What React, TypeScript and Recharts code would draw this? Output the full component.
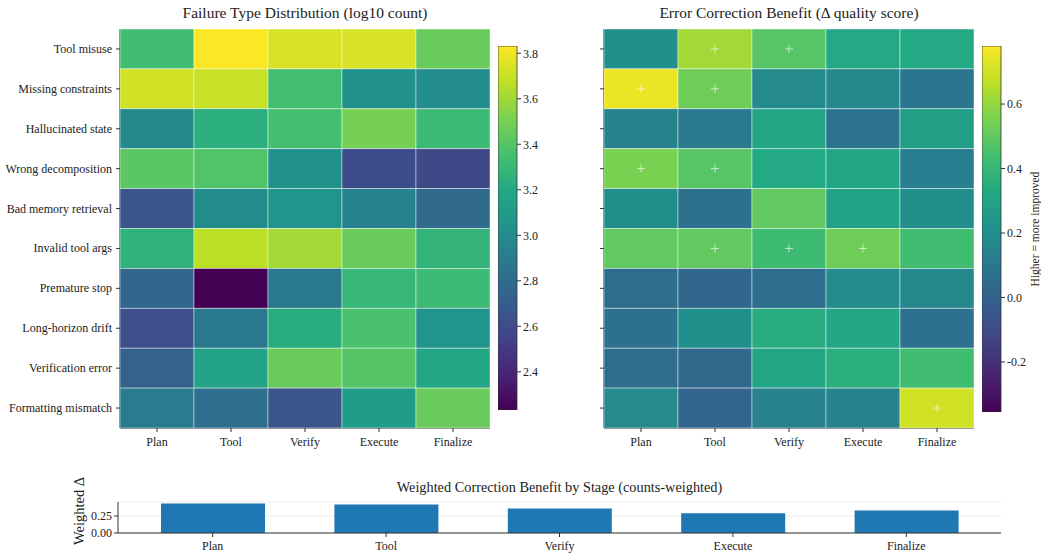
import React from 'react';
import { ScatterChart, Scatter, BarChart, Bar, XAxis, YAxis, CartesianGrid, Label } from 'recharts';

const stages = ['Plan', 'Tool', 'Verify', 'Execute', 'Finalize'];
const failureTypes = [
  'Tool misuse',
  'Missing constraints',
  'Hallucinated state',
  'Wrong decomposition',
  'Bad memory retrieval',
  'Invalid tool args',
  'Premature stop',
  'Long-horizon drift',
  'Verification error',
  'Formatting mismatch',
];

// log10 counts, rows = failure types, cols = stages
const logCounts = [
  [3.34, 3.83, 3.74, 3.74, 3.46],
  [3.72, 3.7, 3.35, 3.03, 3.0],
  [2.98, 3.24, 3.35, 3.5, 3.32],
  [3.42, 3.39, 3.03, 2.6, 2.58],
  [2.65, 3.0, 3.06, 2.94, 2.79],
  [3.26, 3.67, 3.61, 3.46, 3.27],
  [2.76, 2.232, 2.87, 3.29, 3.32],
  [2.62, 2.87, 3.22, 3.37, 3.05],
  [2.73, 3.16, 3.46, 3.4, 3.18],
  [2.89, 2.81, 2.65, 3.11, 3.46],
];

// delta quality score
const deltas = [
  [0.21, 0.62, 0.48, 0.33, 0.33],
  [0.75, 0.53, 0.18, 0.17, 0.09],
  [0.145, 0.11, 0.315, 0.076, 0.28],
  [0.55, 0.48, 0.33, 0.315, 0.12],
  [0.2, 0.065, 0.5, 0.3, 0.2],
  [0.5, 0.5, 0.42, 0.53, 0.43],
  [0.05, 0.02, 0.05, 0.19, 0.17],
  [0.065, 0.21, 0.35, 0.315, 0.065],
  [0.05, 0.03, 0.315, 0.36, 0.43],
  [0.18, 0.01, 0.145, 0.145, 0.7],
];

// cells marked with "+"
const significant = [
  [0, 1, 1, 0, 0],
  [1, 1, 0, 0, 0],
  [0, 0, 0, 0, 0],
  [1, 1, 0, 0, 0],
  [0, 0, 0, 0, 0],
  [0, 1, 1, 1, 0],
  [0, 0, 0, 0, 0],
  [0, 0, 0, 0, 0],
  [0, 0, 0, 0, 0],
  [0, 0, 0, 0, 1],
];

const weightedDelta = [0.435, 0.42, 0.36, 0.29, 0.33];

const countDomain = [2.232, 3.832];
const countTicks = [2.4, 2.6, 2.8, 3.0, 3.2, 3.4, 3.6, 3.8];
const deltaDomain = [-0.355, 0.78];
const deltaTicks = [-0.2, 0.0, 0.2, 0.4, 0.6];
const barDomain = [0, 0.457];
const barTicks = [0, 0.25];

const viridisStops = [
  '#440154', '#482475', '#414487', '#355f8d', '#2a788e', '#21918c',
  '#22a884', '#44bf70', '#7ad151', '#bddf26', '#fde725',
];

const FONT = '"Liberation Serif", "DejaVu Serif", serif';
const AXIS = '#333333';
const TEXT = '#222222';

function hexToRgb(h: string) {
  return [1, 3, 5].map((i) => parseInt(h.slice(i, i + 2), 16));
}

function viridis(t: number) {
  const c = Math.max(0, Math.min(1, t)) * 10;
  const i = Math.min(9, Math.floor(c));
  const f = c - i;
  const a = hexToRgb(viridisStops[i]);
  const b = hexToRgb(viridisStops[i + 1]);
  const m = a.map((v, k) => Math.round(v + (b[k] - v) * f));
  return `rgb(${m[0]},${m[1]},${m[2]})`;
}

const toCells = (values: number[][], marks?: number[][]) =>
  values.flatMap((row, r) =>
    row.map((v, c) => ({ x: c, y: r, v, mark: marks ? marks[r][c] === 1 : false }))
  );

const PLOT_W = 370;
const PLOT_H = 399;
const tickStyle = { fontSize: 12, fontFamily: FONT, fill: TEXT };

// plain svg text so long labels never wrap
const YTick = ({ x, y, payload, labels }: any) => (
  <text x={x - 1} y={y} dy={4} textAnchor="end" fontSize={12} fontFamily={FONT} fill={TEXT}>
    {labels ? labels[payload.value] : ''}
  </text>
);

function Heatmap({ values, marks, domain, showLabels }: any) {
  const cw = PLOT_W / stages.length;
  const ch = PLOT_H / failureTypes.length;
  const [lo, hi] = domain;
  const yAxisW = showLabels ? 120 : 30;
  const shape = (p: any) => {
    const { cx, cy, payload } = p;
    return (
      <g>
        <rect
          x={cx - cw / 2}
          y={cy - ch / 2}
          width={cw}
          height={ch}
          fill={viridis((payload.v - lo) / (hi - lo))}
          stroke="rgba(255,255,255,0.55)"
          strokeWidth={0.8}
        />
        {payload.mark && (
          <path
            d={`M${cx - 4},${cy}h8M${cx},${cy - 4}v8`}
            stroke="rgba(255,255,255,0.8)"
            strokeWidth={0.8}
          />
        )}
      </g>
    );
  };
  return (
    <ScatterChart
      width={yAxisW + PLOT_W + 10}
      height={460}
      margin={{ top: 29, right: 10, bottom: 6, left: 0 }}
    >
      <XAxis
        type="number"
        dataKey="x"
        domain={[-0.5, 4.5]}
        ticks={[0, 1, 2, 3, 4]}
        allowDataOverflow
        interval={0}
        tickFormatter={(v) => stages[v]}
        height={26}
        tickSize={4}
        tickMargin={5}
        tick={tickStyle}
        stroke={AXIS}
      />
      <XAxis xAxisId="top" orientation="top" type="number" domain={[-0.5, 4.5]} height={0} tick={false} tickLine={false} stroke={AXIS} />
      <YAxis
        type="number"
        dataKey="y"
        domain={[-0.5, 9.5]}
        ticks={[0, 1, 2, 3, 4, 5, 6, 7, 8, 9]}
        allowDataOverflow
        reversed
        interval={0}
        width={yAxisW}
        tickSize={4}
        tickMargin={3}
        tick={<YTick labels={showLabels ? failureTypes : null} />}
        stroke={AXIS}
      />
      <YAxis yAxisId="right" orientation="right" type="number" domain={[-0.5, 9.5]} width={0} tick={false} tickLine={false} stroke={AXIS} />
      <Scatter data={toCells(values, marks)} shape={shape} isAnimationActive={false} />
    </ScatterChart>
  );
}

function Colorbar({ id, domain, ticks, height, label }: any) {
  const [lo, hi] = domain;
  return (
    <BarChart
      width={19 + 40}
      height={height + 10}
      data={[{ k: 'cb', r: [lo, hi] }]}
      margin={{ top: 5, right: 0, bottom: 5, left: 0 }}
      barCategoryGap={0}
    >
      <defs>
        <linearGradient id={id} x1="0" y1="1" x2="0" y2="0">
          {viridisStops.map((c, i) => (
            <stop key={i} offset={`${i * 10}%`} stopColor={c} />
          ))}
        </linearGradient>
      </defs>
      <XAxis dataKey="k" hide />
      <YAxis
        orientation="right"
        type="number"
        domain={domain}
        ticks={ticks}
        allowDataOverflow
        interval={0}
        width={40}
        tickSize={4}
        tickFormatter={(v) => v.toFixed(1)}
        tick={tickStyle}
        stroke={AXIS}
        axisLine={false}
      >
        {label && (
          <Label
            value={label}
            angle={-90}
            position="insideRight"
            offset={6}
            style={{ textAnchor: 'middle', fontSize: 11.5, fontFamily: FONT, fill: TEXT }}
          />
        )}
      </YAxis>
      <Bar dataKey="r" fill={`url(#${id})`} stroke={AXIS} strokeWidth={0.8} isAnimationActive={false} />
    </BarChart>
  );
}

const barData = stages.map((s, i) => ({ stage: s, value: weightedDelta[i] }));

function Title({ text, left, width, top, size, rotate }: any) {
  return (
    <div
      style={{
        position: 'absolute',
        left,
        width,
        top,
        textAlign: 'center',
        fontFamily: FONT,
        fontSize: size,
        lineHeight: `${size + 2}px`,
        color: TEXT,
        whiteSpace: 'nowrap',
        transform: rotate ? 'translate(-50%, -50%) rotate(-90deg)' : undefined,
      }}
    >
      {text}
    </div>
  );
}

export default function App() {
  return (
    <div style={{ position: 'absolute', left: 0, top: 0, width: 1041, height: 554, background: '#fff', overflow: 'hidden' }}>
      <Title text="Failure Type Distribution (log10 count)" left={120} width={370} top={4} size={15.5} />
      <Title text="Error Correction Benefit (Δ quality score)" left={604} width={370} top={4} size={15.5} />
      <Title text="Weighted Correction Benefit by Stage (counts-weighted)" left={118} width={883} top={479} size={14.3} />

      <div style={{ position: 'absolute', left: 0, top: 0 }}>
        <Heatmap values={logCounts} domain={countDomain} showLabels />
      </div>
      <div style={{ position: 'absolute', left: 498, top: 41 }}>
        <Colorbar id="cbCounts" domain={countDomain} ticks={countTicks} height={364} />
      </div>
      <div style={{ position: 'absolute', left: 574, top: 0 }}>
        <Heatmap values={deltas} marks={significant} domain={deltaDomain} showLabels={false} />
      </div>
      <div style={{ position: 'absolute', left: 982, top: 41 }}>
        <Colorbar id="cbDelta" domain={deltaDomain} ticks={deltaTicks} height={366} label="Higher = more improved" />
      </div>

      <div style={{ position: 'absolute', left: 0, top: 480 }}>
        <BarChart
          width={1041}
          height={74}
          data={barData}
          margin={{ top: 22, right: 40, bottom: 1, left: 0 }}
        >
          <CartesianGrid vertical={false} stroke="#ebebeb" />
          <XAxis
            dataKey="stage"
            padding={{ left: 8, right: 8 }}
            height={20}
            tickSize={4}
            tickMargin={4}
            tick={tickStyle}
            stroke={AXIS}
            interval={0}
          />
          <XAxis xAxisId="top" dataKey="stage" orientation="top" height={0} tick={false} tickLine={false} stroke={AXIS} />
          <YAxis
            type="number"
            domain={barDomain}
            ticks={barTicks}
            allowDataOverflow
            interval={0}
            width={118}
            tickSize={4}
            tickFormatter={(v) => v.toFixed(2)}
            tick={tickStyle}
            stroke={AXIS}
          />
          <YAxis yAxisId="right" orientation="right" type="number" domain={barDomain} width={0} tick={false} tickLine={false} stroke={AXIS} />
          <Bar dataKey="value" fill="#1f77b4" barSize={104} isAnimationActive={false} />
        </BarChart>
      </div>
      <Title text="Weighted Δ" left={79} top={511} size={14.5} rotate />
    </div>
  );
}
